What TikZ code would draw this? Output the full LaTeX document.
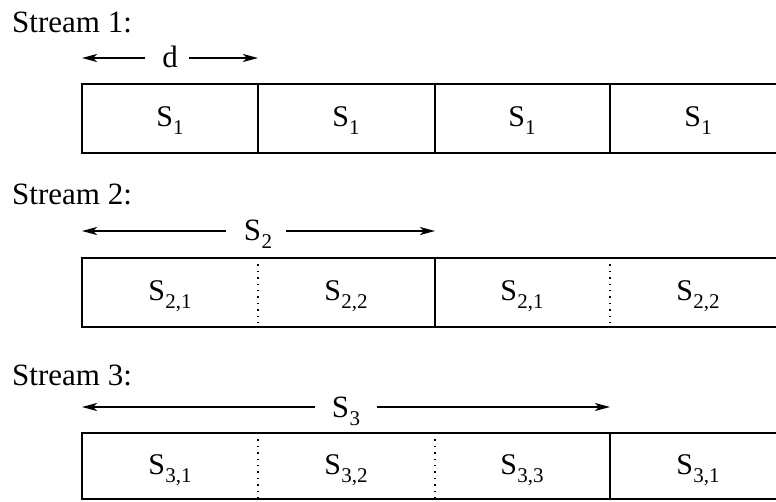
\documentclass[tikz,border=0pt]{standalone}
\usepackage{fontspec}
\setmainfont{Liberation Serif}
\usetikzlibrary{arrows.meta}
\newcommand\sbx[2]{#1\kern0.3pt\raisebox{-8pt}{\fontsize{21}{21}\selectfont #2}}
\begin{document}
\begin{tikzpicture}[x=1pt,y=-1pt,
  boxline/.style={line width=1.2pt},
  dotdiv/.style={line width=1.4pt, dash pattern=on 1.4pt off 5pt},
  arr/.style={-{Stealth[length=15pt,width=8pt,inset=4pt]}, line width=1.3pt},
  txt/.style={font=\fontsize{31}{31}\selectfont, inner sep=0pt},
  lbl/.style={txt, anchor=base},
  celltxt/.style={font=\fontsize{30}{30}\selectfont, inner sep=0pt, anchor=base}]
\useasboundingbox (0,0) rectangle (776,502);
\clip (0,0) rectangle (776,502);

% ---------- Stream 1 ----------
\node[txt, anchor=base west] (st1) at (12,33) {Stream 1:};
\coordinate (a1l) at (82,58);
\coordinate (a1r) at (258,58);
\node[lbl] (dl) at (170,68) {d};
\draw[arr] ([xshift=-17pt]dl.west |- a1l) -- (a1l);
\draw[arr] ([xshift=11pt]dl.east |- a1r) -- (a1r);
\draw[boxline] (790,84) -- (82,84) -- (82,153) -- (790,153);
\draw[boxline] (258,84) -- (258,153);
\draw[boxline] (435,84) -- (435,153);
\draw[boxline] (610,84) -- (610,153);
\node[celltxt] (c11) at (170,127) {\sbx{S}{1}};
\node[celltxt] (c12) at (346,127) {\sbx{S}{1}};
\node[celltxt] (c13) at (522,127) {\sbx{S}{1}};
\node[celltxt] (c14) at (698,127) {\sbx{S}{1}};

% ---------- Stream 2 ----------
\node[txt, anchor=base west] (st2) at (12,205) {Stream 2:};
\coordinate (a2l) at (82,231);
\coordinate (a2r) at (435,231);
\node[lbl] (s2l) at (258,241) {\sbx{S}{2}};
\draw[arr] ([xshift=-18pt]s2l.west |- a2l) -- (a2l);
\draw[arr] ([xshift=14pt]s2l.east |- a2r) -- (a2r);
\draw[boxline] (790,258) -- (82,258) -- (82,327) -- (790,327);
\draw[dotdiv] (258,258) -- (258,327);
\draw[boxline] (435,258) -- (435,327);
\draw[dotdiv] (610,258) -- (610,327);
\node[celltxt] (c21) at (170,301) {\sbx{S}{2,1}};
\node[celltxt] (c22) at (346,301) {\sbx{S}{2,2}};
\node[celltxt] (c23) at (522,301) {\sbx{S}{2,1}};
\node[celltxt] (c24) at (698,301) {\sbx{S}{2,2}};

% ---------- Stream 3 ----------
\node[txt, anchor=base west] (st3) at (12,385) {Stream 3:};
\coordinate (a3l) at (82,407);
\coordinate (a3r) at (610,407);
\node[lbl] (s3l) at (346,417) {\sbx{S}{3}};
\draw[arr] ([xshift=-17pt]s3l.west |- a3l) -- (a3l);
\draw[arr] ([xshift=17pt]s3l.east |- a3r) -- (a3r);
\draw[boxline] (790,433) -- (82,433) -- (82,499) -- (790,499);
\draw[dotdiv] (258,433) -- (258,499);
\draw[dotdiv] (435,433) -- (435,499);
\draw[boxline] (610,433) -- (610,499);
\node[celltxt] (c31) at (170,474) {\sbx{S}{3,1}};
\node[celltxt] (c32) at (346,474) {\sbx{S}{3,2}};
\node[celltxt] (c33) at (522,474) {\sbx{S}{3,3}};
\node[celltxt] (c34) at (698,474) {\sbx{S}{3,1}};
\end{tikzpicture}
\end{document}
